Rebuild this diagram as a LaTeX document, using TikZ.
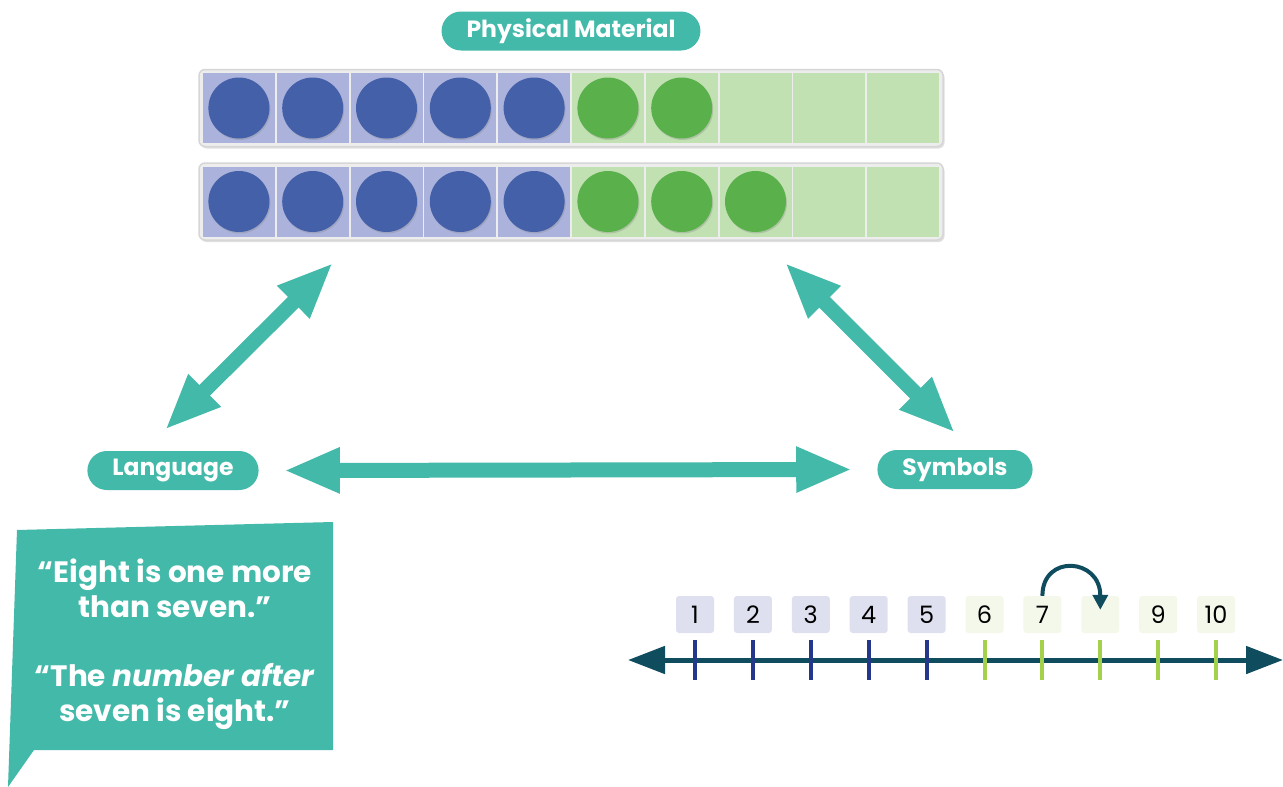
\documentclass[tikz,border=0pt]{standalone}
\usepackage{fontspec}
\setmainfont{Poppins}
\usetikzlibrary{arrows.meta,shadows}

\definecolor{tealmain}{HTML}{43B9AA}
\definecolor{cellblue}{HTML}{ABB3DD}
\definecolor{dotblue}{HTML}{4360A9}
\definecolor{cellgreen}{HTML}{C2E1B3}
\definecolor{dotgreen}{HTML}{5AB14C}
\definecolor{linedark}{HTML}{0F4C5E}
\definecolor{tickblue}{HTML}{24378B}
\definecolor{tickgreen}{HTML}{A3D14B}
\definecolor{boxblue}{HTML}{DEE0EF}
\definecolor{boxgreen}{HTML}{F4F8EB}

\tikzset{
  pill/.style={fill=tealmain, text=white, rounded corners=19.5pt,
    minimum height=39pt, inner xsep=25pt, inner ysep=0pt,
    font=\fontsize{23.5pt}{23.5pt}\selectfont\bfseries},
  bigarrow/.style={draw=tealmain, line width=15pt,
    {Triangle[length=56pt,width=42pt]}-{Triangle[length=56pt,width=42pt]}},
  framebox/.style={draw=black!16, fill=black!7, line width=1.5pt,
    rounded corners=6pt, minimum width=744pt, minimum height=77pt,
    drop shadow={opacity=0.25, shadow xshift=1.5pt, shadow yshift=-2pt}},
  counter/.style={drop shadow={opacity=0.3, shadow xshift=1pt, shadow yshift=-1.5pt}},
  quote/.style={text=white, align=center,
    font=\fontsize{29.5pt}{35pt}\selectfont\bfseries},
  numline/.style={draw=linedark, line width=5pt,
    {Triangle[length=37pt,width=27pt]}-{Triangle[length=37pt,width=27pt]}},
  numbox/.style={rounded corners=3pt, minimum width=38pt, minimum height=37pt,
    inner sep=0pt, font=\fontsize{24pt}{24pt}\selectfont},
  hop/.style={draw=linedark, line width=4pt, -{Triangle[length=15pt,width=15pt]}}
}

\begin{document}
\begin{tikzpicture}[x=1pt, y=-1pt]
  \useasboundingbox (0,0) rectangle (1283,787);
  %
  \node[pill] (phys) at (571,31) {Physical Material};
  %
  \node[framebox] (frameA) at (571,108) {};
  \node[framebox] (frameB) at (571,201.5) {};
  \foreach \yc/\n in {108/7, 201.5/8} {
    \foreach \i in {0,...,9} {
      \ifnum\i<5 \def\cellc{cellblue}\def\dotc{dotblue}%
      \else \def\cellc{cellgreen}\def\dotc{dotgreen}\fi
      \pgfmathsetmacro\cx{202+73.8*\i+36.9}
      \fill[\cellc] (\cx-36,\yc-35) rectangle (\cx+36,\yc+35);
      \ifnum\i<\n
        \fill[\dotc, counter] (\cx,\yc) circle (30.5);
      \fi
    }
  }
  %
  \node[pill] (lang) at (173,470.5) {Language};
  \node[pill] (sym) at (955,469.5) {Symbols};
  %
  \draw[bigarrow] ([xshift=-8pt,yshift=21pt]lang.north) -- ([xshift=-238pt,yshift=-22pt]frameB.south);
  \draw[bigarrow] ([xshift=214pt,yshift=-22pt]frameB.south) -- ([yshift=17pt]sym.north);
  \draw[bigarrow] ([xshift=25pt]lang.east) -- ([xshift=-25pt]sym.west);
  %
  \fill[tealmain] (17,530) -- (333,522) -- (333,750) -- (34,750) -- (8,787) -- cycle;
  \node[quote] (q1) at (175,588) {“Eight is one more\\than seven.”};
  \node[quote] (q2) at (175,696) {“The \textit{number after}\\seven is eight.”};
  %
  \coordinate (nlL) at (628,660);
  \coordinate (nlR) at (1283,660);
  \draw[numline] (nlL) -- (nlR);
  \foreach \k/\lab in {1/1,2/2,3/3,4/4,5/5,6/6,7/7,8/{},9/9,10/10} {
    \pgfmathsetmacro\tx{695+57.9*(\k-1)}
    \ifnum\k<6 \def\tc{tickblue}\def\bc{boxblue}%
    \else \def\tc{tickgreen}\def\bc{boxgreen}\fi
    \draw[\tc, line width=4pt] (\tx,640) -- (\tx,680);
    \node[numbox, fill=\bc] (box\k) at (\tx,614.5) {\lab};
  }
  \draw[hop] (box7.north) .. controls +(0,-42) and +(0,-52) .. ([yshift=-14pt]box8.north);
  %
\end{tikzpicture}
\end{document}
